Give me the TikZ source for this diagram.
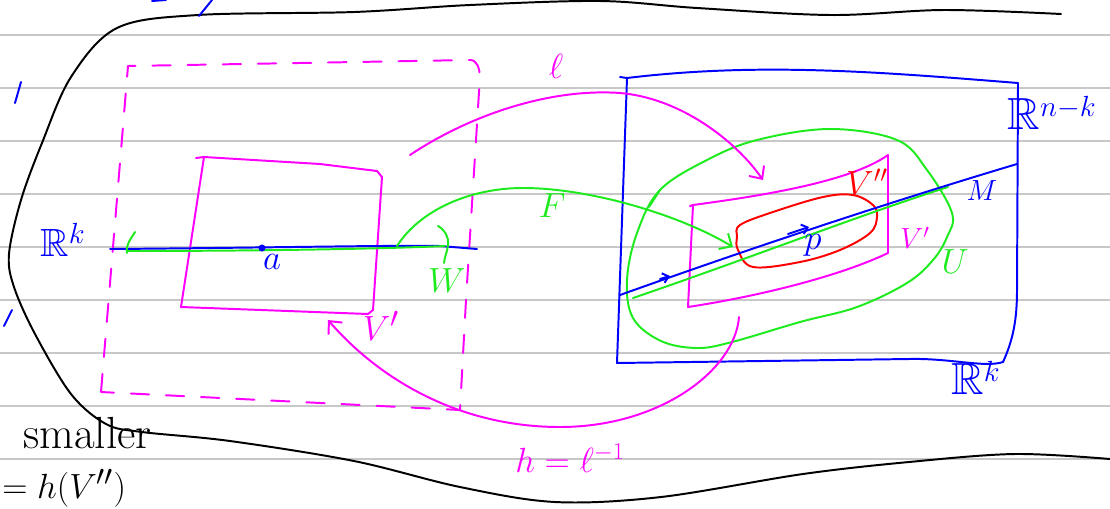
\documentclass[tikz,border=0pt]{standalone}
\usepackage{amsmath, amssymb}
\usepackage{tikz}
\usetikzlibrary{arrows.meta, positioning, calc}
\definecolor{pink1}{RGB}{255,0,255}
\definecolor{green1}{RGB}{30,235,30}
\definecolor{blue1}{RGB}{0,0,255}
\definecolor{red1}{RGB}{255,0,0}
\definecolor{gray1}{RGB}{200,200,200}
\newcommand{\hand}[1]{\fontsize{#1}{#1}\selectfont}

\begin{document}
\begin{tikzpicture}[x=0.025cm, y=-0.025cm,
  pen/.style={line width=1.4pt, line cap=round, line join=round},
  ink/.style={pen, draw=black},
  pk/.style={pen, draw=pink1},
  gr/.style={pen, draw=green1},
  bl/.style={pen, draw=blue1},
  rd/.style={pen, draw=red1},
  dsh/.style={pk, dash pattern=on 13pt off 12pt},
  arr/.style={-{Straight Barb[length=7pt, width=13pt]}},
  tick/.style={-{Straight Barb[length=4pt, width=7pt]}},
  rule/.style={draw=gray1, line width=0.9pt},
  lbl/.style={inner sep=0pt, font=\hand{26}},
  dot/.style={circle, fill=blue1, inner sep=0pt, minimum size=5pt},
]
\useasboundingbox (0,0) rectangle (1110,508);

% ruled paper
\foreach \y in {35,88,...,459}
  \draw[rule] (0,\y) -- (1110,\y);

% outer region
\draw[ink] plot[smooth, tension=0.55] coordinates {(1061,14) (944,10) (831,15)
  (697,8) (600,1) (470,5) (354,12) (198,15) (117,28) (71,77) (42,143) (21,200)
  (9,254) (14,287) (35,334) (71,394) (106,424) (142,432) (230,441) (354,461)
  (460,487) (555,502) (661,497) (803,474) (909,462) (1015,454) (1110,459)};
\draw[bl] (152,1) -- (166,0);
\draw[bl] (212,0) -- (199,16);
\draw[bl] (21,82) -- (15,103);
\draw[bl] (12,310) -- (4,326);

% left chart
\draw[dsh] (101,392) -- (128,66) -- (470,60) to[out=0,in=95] (480,76)
  -- (466,300) -- (460,410) -- cycle;
\draw[pk] (196,158) -- (204,157) -- (320,164) -- (377,171) -- (382,177)
  -- (373,310) -- (368,314) -- (181,307) -- (204,157);
\draw[bl] (110,249) .. controls (250,248) and (400,245) .. (440,246) -- (477,249);
\draw[gr] (127,251) .. controls (250,251) and (380,249) .. (445,246);
\draw[gr] (135,232) to[out=-120,in=100] (127,253);
\draw[gr] (438,226) to[out=-30,in=85] (448,245) to[out=-95,in=85] (444,263);
\node[dot] (adot) at (262,248) {};

% right chart
\draw[bl] (620,77) -- (627,78) -- (617,363) -- (909,359)
  .. controls (950,358) and (985,368) .. (1003,362)
  .. controls (1013,340) and (1017,320) .. (1017,290) -- (1018,83)
  .. controls (880,72) and (760,62) .. (627,78);
\draw[gr] plot[smooth cycle, tension=0.6] coordinates {(660,190) (707,160)
  (757,140) (830,129) (897,140) (927,170) (952,213) (947,237) (933,260)
  (907,283) (857,307) (800,322) (732,342) (697,348) (661,341) (633,318)
  (627,280) (637,233)};
\draw[gr] (660,190) -- (649,207);
\draw[pk] (690,206) -- (693,205) .. controls (760,196) and (850,182) .. (888,155)
  -- (888,253) .. controls (840,276) and (760,296) .. (688,307) -- (693,205);
\draw[rd] plot[smooth cycle, tension=0.6] coordinates {(740,225) (773,212)
  (823,197) (853,195) (873,205) (877,217) (870,233) (840,250) (800,262)
  (753,267) (738,250) (737,237)};
\draw[gr] (633,298) .. controls (750,258) and (860,215) .. (948,187);
\draw[bl] (620,295) .. controls (740,252) and (880,205) .. (1017,164);
\coordinate (pa) at (788,234);
\coordinate (pb) at (809,227);
\draw[bl, tick] (pa) -- (pb);
\coordinate (qa) at (660,279);
\coordinate (qb) at (670,276);
\draw[bl, tick] (qa) -- (qb);

% maps
\coordinate (lfrom) at (410,155);
\coordinate (lto) at (763,180);
\coordinate (ffrom) at (397,246);
\coordinate (fto) at (733,247);
\coordinate (hfrom) at (739,317);
\coordinate (hto) at (328,320);
\draw[pk, arr] (lfrom) .. controls (470,115) and (550,88) .. (620,93)
  .. controls (680,98) and (735,140) .. (lto);
\draw[gr, arr] (ffrom) .. controls (420,210) and (470,188) .. (523,188)
  .. controls (590,188) and (680,215) .. (fto);
\draw[pk, arr] (hfrom) .. controls (735,370) and (660,427) .. (560,427)
  .. controls (460,427) and (380,380) .. (hto);

% labels
\node[lbl, text=blue1, font=\hand{28}] (rkA) at (63,240) {$\mathbb{R}^k$};
\node[lbl, text=blue1, font=\hand{30}] (aLbl) at (272,262) {$a$};
\node[lbl, text=green1, font=\hand{24}] (wLbl) at (447,281) {$W$};
\node[lbl, text=pink1, font=\hand{30}] (vpL) at (381,326) {$V'$};
\node[lbl, text=pink1, font=\hand{50}] (ellL) at (556,66) {$\ell$};
\node[lbl, text=green1, font=\hand{28}] (fL) at (552,206) {$F$};
\node[lbl, text=blue1, font=\hand{32}] (rnk) at (1052,113) {$\mathbb{R}^{n-k}$};
\node[lbl, text=blue1, font=\hand{22}] (mL) at (982,191) {$M$};
\node[lbl, text=blue1, font=\hand{28}] (pL) at (813,245) {$p$};
\node[lbl, text=red1, font=\hand{26}] (vppL) at (867,182) {$V''$};
\node[lbl, text=pink1, font=\hand{22}] (vpR) at (915,238) {$V'$};
\node[lbl, text=green1, font=\hand{36}] (uL) at (955,262) {$U$};
\node[lbl, text=blue1, font=\hand{32}] (rkB) at (976,378) {$\mathbb{R}^k$};
\node[lbl, text=pink1] (hL) at (570,458) {$h=\ell^{-1}$};
\node[lbl, font=\hand{32}, anchor=base west] (smL) at (23,448) {smaller};
\node[lbl, font=\hand{28}, anchor=base west] (hvL) at (2,498) {$=h(V'')$};

\end{tikzpicture}
\end{document}
